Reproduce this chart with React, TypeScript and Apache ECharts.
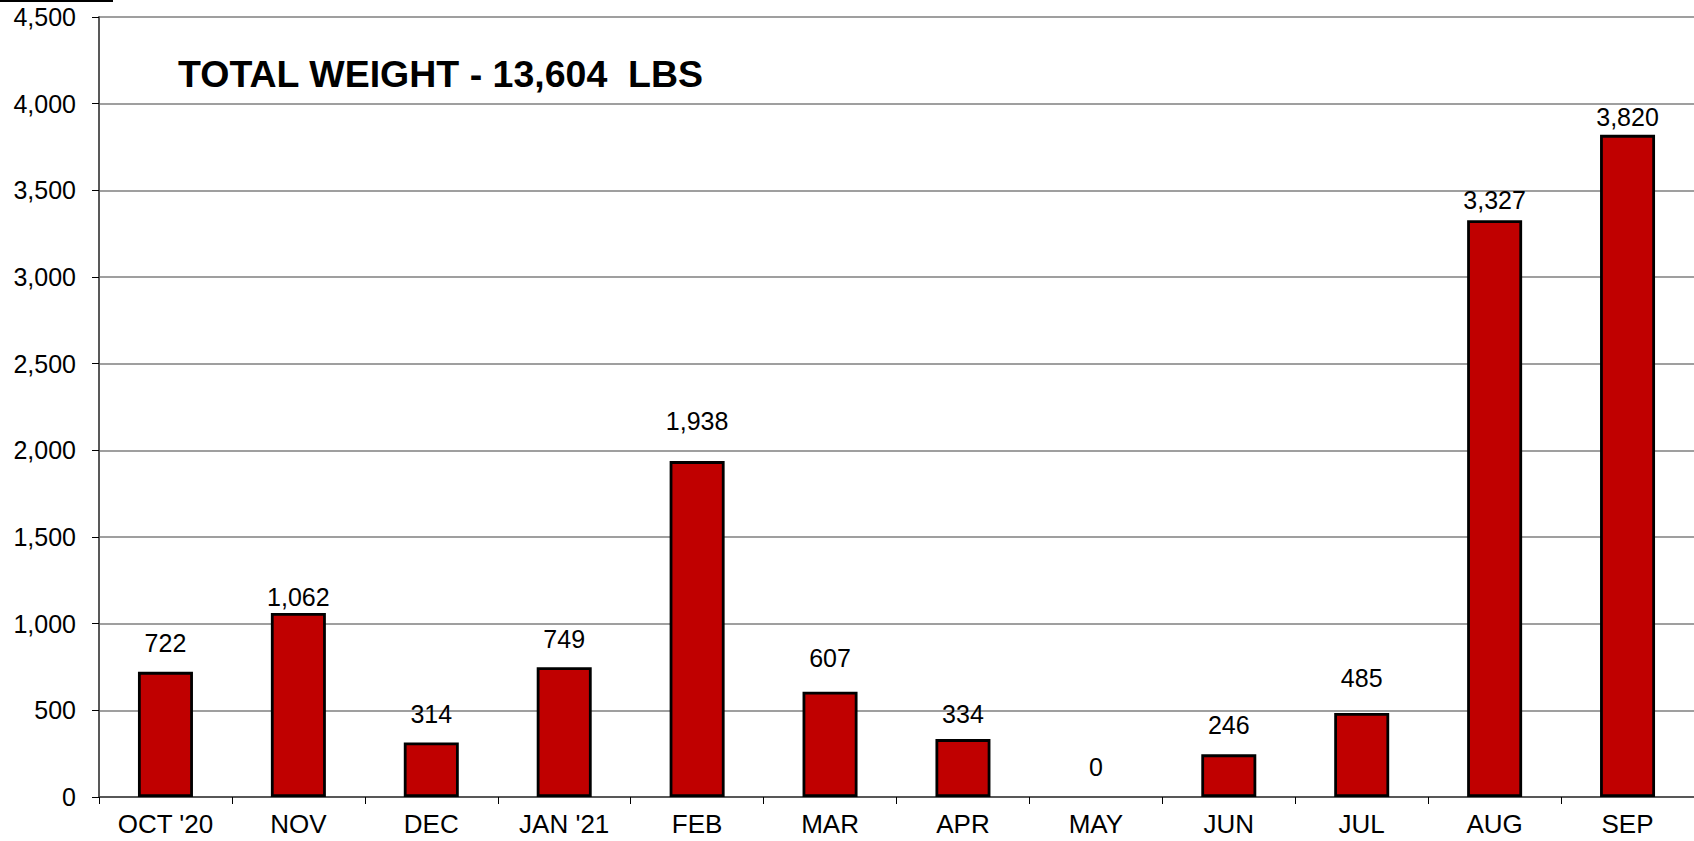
import React, { useEffect, useRef } from "react";
import * as echarts from "echarts";

const months = ["OCT '20", "NOV", "DEC", "JAN '21", "FEB", "MAR", "APR", "MAY", "JUN", "JUL", "AUG", "SEP"];
const weights = [722, 1062, 314, 749, 1938, 607, 334, 0, 246, 485, 3327, 3820];
const labelGaps = [16, 3, 16, 16, 28, 21, 13, 18, 17, 22, 8, 5];
const titleText = "TOTAL WEIGHT - 13,604  LBS";
const yMin = 0;
const yMax = 4500;
const yStep = 500;

export default function App() {
  const ref = useRef<HTMLDivElement>(null);
  useEffect(() => {
    document.body.style.margin = "0";
    const chart = echarts.init(ref.current!, null, { renderer: "svg" });
    const fmt = (v: number) => v.toLocaleString("en-US");
    const ff = "Liberation Sans, Arial, sans-serif";
    chart.setOption({
      animation: false,
      backgroundColor: "#ffffff",
      textStyle: { fontFamily: ff },
      title: {
        text: titleText,
        left: 178,
        top: 55,
        padding: 0,
        textStyle: { fontSize: 37.5, fontWeight: "bold", color: "#000", fontFamily: ff },
      },
      graphic: [
        { type: "line", shape: { x1: 0, y1: 1, x2: 113, y2: 1 }, style: { stroke: "#000", lineWidth: 2 } },
      ],
      grid: { left: 99, top: 17, width: 1596, height: 780, containLabel: false },
      xAxis: {
        type: "category",
        data: months,
        axisLine: { show: true, lineStyle: { color: "#404040", width: 1.5 } },
        axisTick: { show: true, alignWithLabel: false, length: 7, lineStyle: { color: "#000", width: 1 } },
        axisLabel: { fontSize: 26, color: "#000", margin: 14, fontFamily: ff },
        splitLine: { show: false },
      },
      yAxis: {
        type: "value",
        min: yMin,
        max: yMax,
        interval: yStep,
        axisLine: { show: true, lineStyle: { color: "#595959", width: 2 } },
        axisTick: { show: true, length: 7, lineStyle: { color: "#000", width: 1 } },
        axisLabel: { fontSize: 25, color: "#000", margin: 23, formatter: (v: number) => fmt(v), fontFamily: ff },
        splitLine: { show: true, lineStyle: { color: "#7f7f7f", width: 1.5 } },
      },
      series: [
        {
          type: "bar",
          barWidth: 55,
          data: weights.map((v, i) => ({
            value: v,
            itemStyle: { color: "#C00000", borderColor: "#000", borderWidth: v === 0 ? 0 : 2.8 },
            label: { distance: labelGaps[i] },
          })),
          label: {
            show: true,
            position: "top",
            fontSize: 25,
            color: "#000",
            fontFamily: ff,
            formatter: (p: any) => fmt(p.value),
          },
        },
      ],
    });
    return () => chart.dispose();
  }, []);
  return <div ref={ref} style={{ width: 1694, height: 841 }} />;
}
